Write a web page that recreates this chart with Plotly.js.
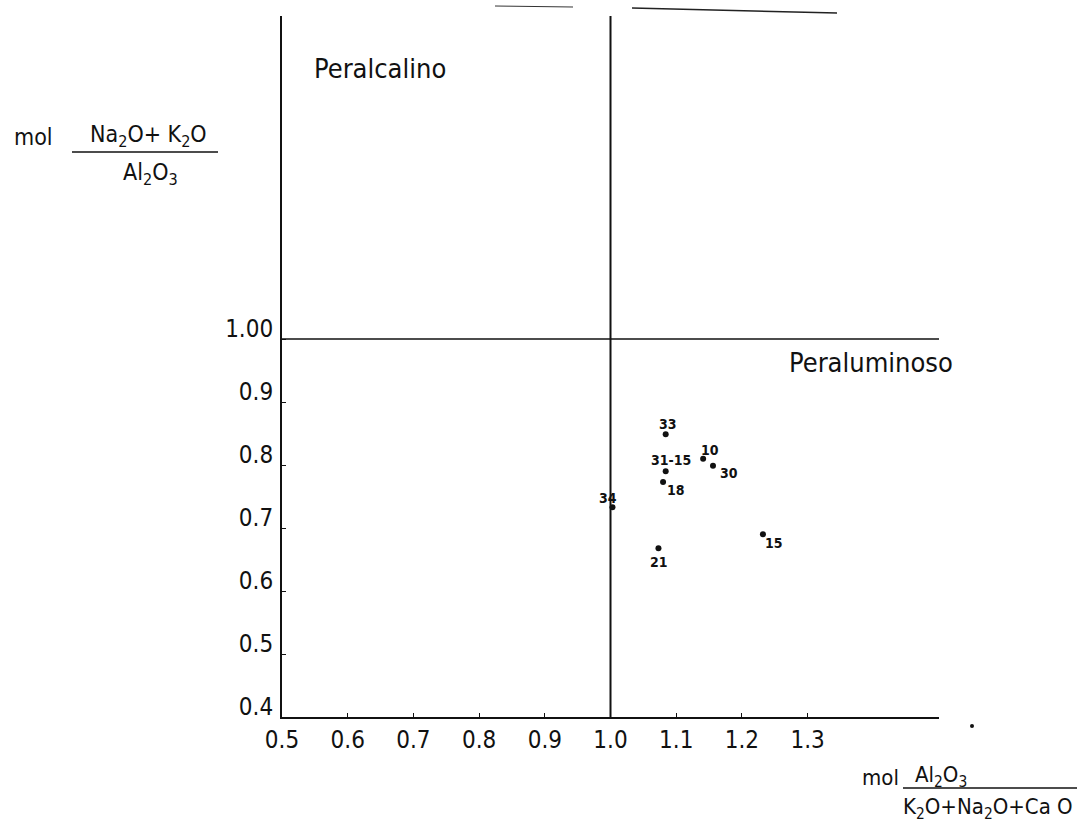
<!DOCTYPE html>
<html>
<head>
<meta charset="utf-8">
<script src="https://cdn.plot.ly/plotly-3.0.1.min.js"></script>
<style>html,body{margin:0;padding:0;background:#fff;}#chart{width:1080px;height:824px;}</style>
</head>
<body>
<div id="chart"></div>
<script>
// ---- data ----
const sampleIds = ['33', '31-15', '10', '30', '18', '34', '21', '15'];
const aluminaIndex = [1.084, 1.084, 1.141, 1.156, 1.080, 1.003, 1.073, 1.232]; // mol Al2O3/(K2O+Na2O+CaO)
const alkaliIndex = [0.849, 0.790, 0.810, 0.799, 0.773, 0.733, 0.668, 0.690];  // mol (Na2O+K2O)/Al2O3
const xTickVals = [0.5, 0.6, 0.7, 0.8, 0.9, 1.0, 1.1, 1.2, 1.3];
const xTickText = ['0.5', '0.6', '0.7', '0.8', '0.9', '1.0', '1.1', '1.2', '1.3'];
const yTickVals = [0.4, 0.5, 0.6, 0.7, 0.8, 0.9, 1.0];
const yTickText = ['0.4', '0.5', '0.6', '0.7', '0.8', '0.9', '1.00'];
const boundaryValue = 1.0;
const fieldNames = ['Peralcalino', 'Peraluminoso'];

// ---- styling / layout ----
const FONT = "'DejaVu Sans Condensed', 'Liberation Sans Narrow', 'DejaVu Sans', sans-serif";
const INK = '#111';
const W = 1080, H = 824;
const M = {l: 282, r: 141, t: 16, b: 107};
const PW = W - M.l - M.r, PH = H - M.t - M.b;
const xRange = [0.5, 1.5];
const yRange = [0.4, 0.4 + PH / 630];
const px = v => (v - M.l) / PW;          // pixel -> paper x
const py = v => (H - M.b - v) / PH;      // pixel -> paper y

// label offsets (pixels) for each point label
const labelDx = [2, 5, 7, 16, 13, -4, 1, 11];
const labelDy = [10, 11, 9, -7, -8, 9, -14, -9];

const trace = {
  type: 'scatter', mode: 'markers',
  x: aluminaIndex, y: alkaliIndex,
  marker: {size: 6, color: INK},
  hoverinfo: 'skip', showlegend: false
};

const annotations = sampleIds.map((id, i) => ({
  x: aluminaIndex[i], y: alkaliIndex[i], xref: 'x', yref: 'y',
  text: '<b>' + id + '</b>', showarrow: false,
  xshift: labelDx[i], yshift: labelDy[i],
  font: {family: FONT, size: 14, color: INK}
}));

function paperText(text, cx, cy, size) {
  return {xref: 'paper', yref: 'paper', x: px(cx), y: py(cy), text: text,
    showarrow: false, xanchor: 'center', yanchor: 'middle',
    font: {family: FONT, size: size, color: INK}};
}
annotations.push(paperText(fieldNames[0], 380, 69, 27));
annotations.push(paperText(fieldNames[1], 871, 363, 27));
// y-axis title (fraction)
annotations.push(paperText('mol', 33, 137, 23));
annotations.push(paperText('Na<sub>2</sub>O+ K<sub>2</sub>O', 148, 136, 23));
annotations.push(paperText('Al<sub>2</sub>O<sub>3</sub>', 150, 174, 23));
// x-axis title (fraction)
annotations.push(paperText('mol', 880, 777, 22));
annotations.push(paperText('Al<sub>2</sub>O<sub>3</sub>', 941, 776, 22));
annotations.push(paperText('K<sub>2</sub>O+Na<sub>2</sub>O+Ca O', 988, 808, 22));

const shapes = [
  // boundary lines at 1.0
  {type: 'line', xref: 'x', yref: 'y', x0: boundaryValue, x1: boundaryValue, y0: yRange[0], y1: yRange[1], line: {color: INK, width: 2}},
  {type: 'line', xref: 'x', yref: 'y', x0: xRange[0], x1: xRange[1], y0: boundaryValue, y1: boundaryValue, line: {color: INK, width: 1.5}},
  // fraction bars
  {type: 'line', xref: 'paper', yref: 'paper', x0: px(72), x1: px(218), y0: py(152), y1: py(152), line: {color: INK, width: 1.5}},
  {type: 'line', xref: 'paper', yref: 'paper', x0: px(903), x1: px(1077), y0: py(788), y1: py(788), line: {color: INK, width: 1.5}},
  // scan marks at top edge
  {type: 'line', xref: 'paper', yref: 'paper', x0: px(495), x1: px(573), y0: py(6), y1: py(7), line: {color: '#333', width: 1}},
  {type: 'line', xref: 'paper', yref: 'paper', x0: px(632), x1: px(837), y0: py(8), y1: py(13), line: {color: '#222', width: 1.5}},
  {type: 'circle', xref: 'paper', yref: 'paper', x0: px(970), x1: px(974), y0: py(728), y1: py(724), fillcolor: INK, line: {width: 0}}
];

const layout = {
  width: W, height: H,
  margin: M,
  paper_bgcolor: '#fff', plot_bgcolor: '#fff',
  font: {family: FONT, color: INK},
  xaxis: {
    range: xRange, showgrid: false, zeroline: false,
    showline: true, linecolor: INK, linewidth: 1.5,
    ticks: 'inside', ticklen: 4, tickcolor: INK, tickwidth: 1,
    tickvals: xTickVals, ticktext: xTickText,
    tickfont: {family: FONT, size: 24, color: INK},
    ticklabelstandoff: 1
  },
  yaxis: {
    range: yRange, showgrid: false, zeroline: false,
    showline: true, linecolor: INK, linewidth: 2,
    ticks: 'inside', ticklen: 4, tickcolor: INK, tickwidth: 1,
    tickvals: yTickVals, ticktext: yTickText,
    tickfont: {family: FONT, size: 24, color: INK},
    ticklabelstandoff: 2, ticklabelshift: -10
  },
  shapes: shapes,
  annotations: annotations
};

Plotly.newPlot('chart', [trace], layout, {staticPlot: true, displayModeBar: false});
</script>
</body>
</html>
